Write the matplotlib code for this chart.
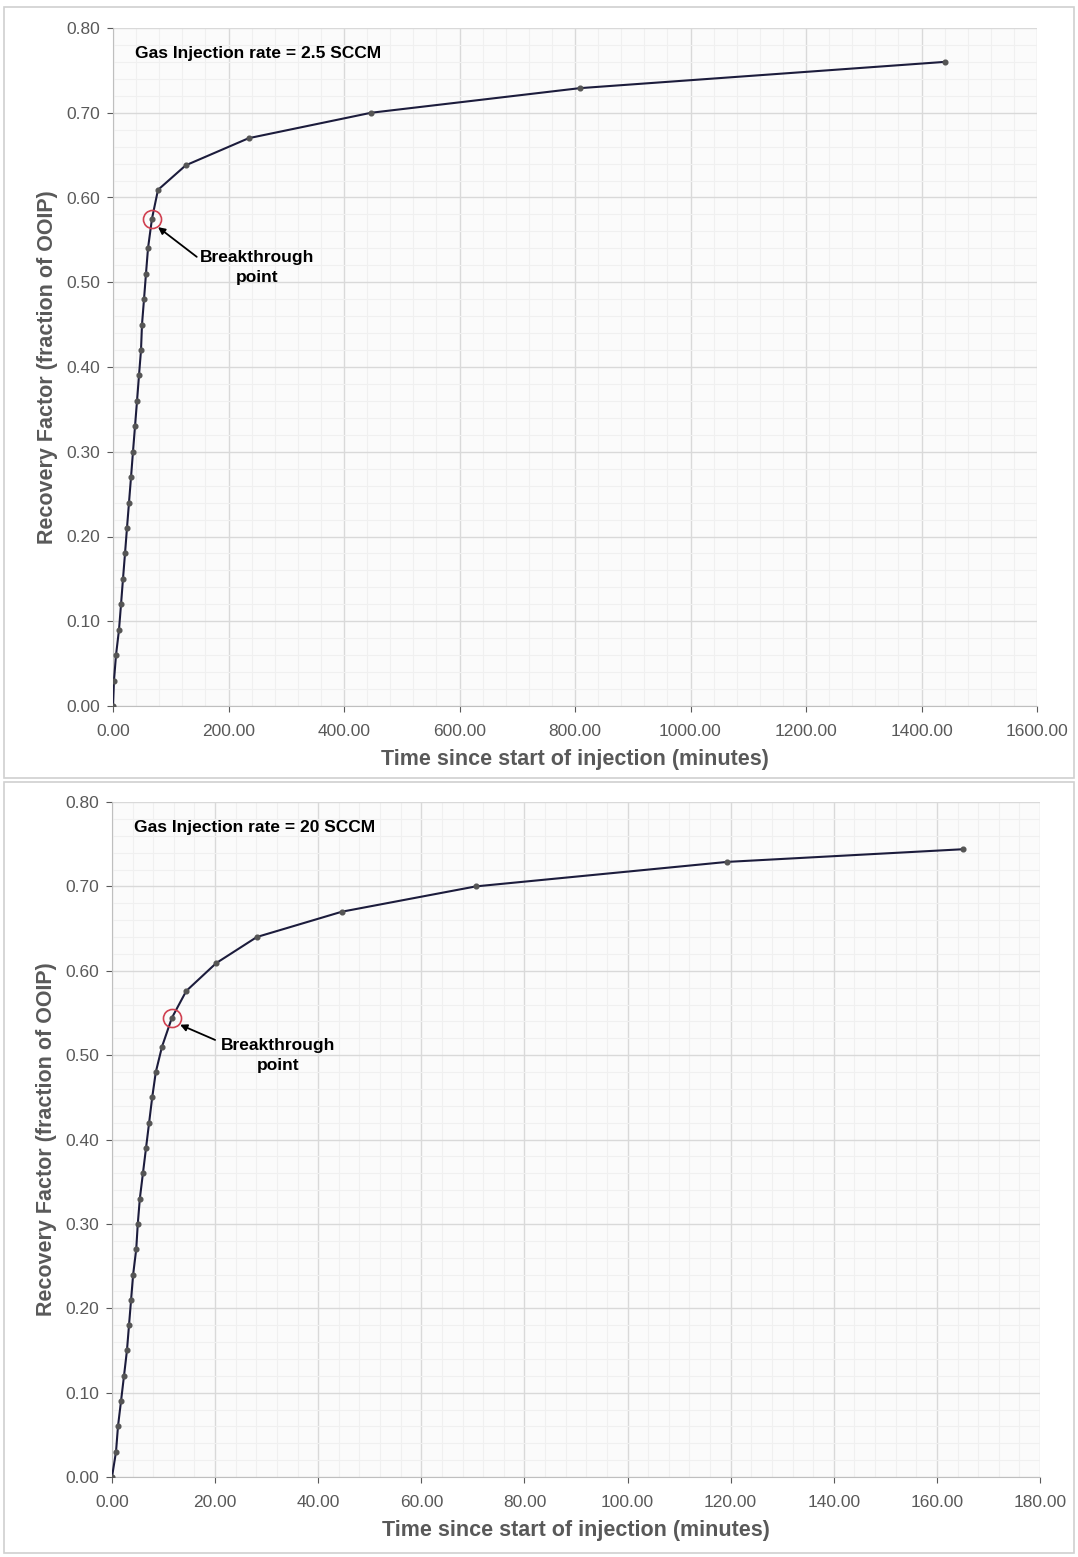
import matplotlib
matplotlib.use('Agg')
import matplotlib.pyplot as plt
import matplotlib.ticker as ticker
from matplotlib.patches import Rectangle

plt.rcParams['font.family'] = ['Liberation Sans', 'DejaVu Sans']

# ── data ────────────────────────────────────────────────────────────────────
time_25 = [0, 1.7, 5.2, 10.4, 13.9, 17.3, 20.8, 24.2, 27.7, 31.2, 34.6, 38.1,
           41.6, 45.0, 48.5, 50.2, 53.7, 57.1, 60.6, 67.5, 77.9, 126, 235, 447,
           808, 1440]
rf_25 = [0.00, 0.03, 0.06, 0.09, 0.12, 0.15, 0.18, 0.21, 0.24, 0.27, 0.30, 0.33,
         0.36, 0.39, 0.42, 0.45, 0.48, 0.51, 0.54, 0.575, 0.609, 0.638, 0.670,
         0.700, 0.729, 0.760]
bt_25 = (67.5, 0.575)

time_20 = [0, 0.78, 1.16, 1.75, 2.33, 2.9, 3.3, 3.7, 4.1, 4.7, 5.0, 5.4, 6.0,
           6.6, 7.2, 7.8, 8.5, 9.7, 11.6, 14.4, 20.2, 28.1, 44.6, 70.6, 119.3,
           165.0]
rf_20 = [0.00, 0.03, 0.06, 0.09, 0.12, 0.15, 0.18, 0.21, 0.24, 0.27, 0.30, 0.33,
         0.36, 0.39, 0.42, 0.45, 0.48, 0.51, 0.544, 0.576, 0.609, 0.640, 0.670,
         0.700, 0.729, 0.744]
bt_20 = (11.6, 0.544)

XLABEL = "Time since start of injection (minutes)"
YLABEL = "Recovery Factor (fraction of OOIP)"

LINE = "#1c1c3c"
MARK = "#555555"
GREY = "#595959"
GRID = "#d9d9d9"
MINOR = "#f0f0f0"

fig = plt.figure(figsize=(10.78, 15.57), dpi=100, facecolor="white")

# chart frames (Excel-like)
for y0, h in [(779 / 1557, 771 / 1557), (4 / 1557, 771 / 1557)]:
    fig.patches.append(Rectangle((4 / 1078, y0), 1070 / 1078, h, transform=fig.transFigure,
                                 fill=False, edgecolor="#d0d0d0", linewidth=1.2))


def draw(ax, t, rf, bt, xmax, xstep, label, text_xy, arrow_from, arrow_to):
    ax.set_facecolor("#fbfbfb")
    ax.plot(t, rf, color=LINE, linewidth=1.5, marker="o", markersize=3.4,
            markerfacecolor=MARK, markeredgecolor=MARK, zorder=3)
    ax.plot([bt[0]], [bt[1]], marker="o", markersize=13, markerfacecolor="none",
            markeredgecolor="#d04050", markeredgewidth=1.2, zorder=4)
    ax.set_xlim(0, xmax)
    ax.set_ylim(0, 0.8)
    ax.xaxis.set_major_locator(ticker.MultipleLocator(xstep))
    ax.xaxis.set_minor_locator(ticker.MultipleLocator(xstep / 5))
    ax.yaxis.set_major_locator(ticker.MultipleLocator(0.1))
    ax.yaxis.set_minor_locator(ticker.MultipleLocator(0.02))
    ax.xaxis.set_major_formatter(ticker.FormatStrFormatter("%.2f"))
    ax.yaxis.set_major_formatter(ticker.FormatStrFormatter("%.2f"))
    ax.grid(which="major", color=GRID, linewidth=1.0)
    ax.grid(which="minor", color=MINOR, linewidth=0.8)
    ax.set_axisbelow(True)
    for s in ["top", "right"]:
        ax.spines[s].set_visible(False)
    for s in ["left", "bottom"]:
        ax.spines[s].set_color("#bfbfbf")
    ax.tick_params(which="major", colors=GREY, labelsize=12.5, length=4, pad=5)
    ax.tick_params(which="minor", length=0)
    ax.tick_params(axis="x", pad=9)
    ax.set_xlabel(XLABEL, fontsize=15.5, fontweight="bold", color=GREY, labelpad=7)
    ax.set_ylabel(YLABEL, fontsize=15.5, fontweight="bold", color=GREY, labelpad=6)
    ax.text(0.024, 0.973, label, transform=ax.transAxes, fontsize=12.5,
            fontweight="bold", color="black", va="top", ha="left")
    ax.text(text_xy[0], text_xy[1], "Breakthrough\npoint", fontsize=12.5,
            fontweight="bold", ha="center", va="center", color="black",
            linespacing=1.4)
    ax.annotate("", xy=arrow_to, xytext=arrow_from,
                arrowprops=dict(arrowstyle="-|>", color="black", linewidth=1.3,
                                shrinkA=0, shrinkB=0, mutation_scale=10))


ax1 = fig.add_axes([113 / 1078, 1 - 706 / 1557, 924 / 1078, 678 / 1557])
draw(ax1, time_25, rf_25, bt_25, 1600, 200, "Gas Injection rate = 2.5 SCCM",
     (249, 0.517), (145, 0.530), (78, 0.565))

ax2 = fig.add_axes([112 / 1078, 1 - 1477 / 1557, 928 / 1078, 675 / 1557])
draw(ax2, time_20, rf_20, bt_20, 180, 20, "Gas Injection rate = 20 SCCM",
     (32.2, 0.500), (20, 0.518), (13.2, 0.536))

plt.savefig("out.png", dpi=100, facecolor=fig.get_facecolor())
